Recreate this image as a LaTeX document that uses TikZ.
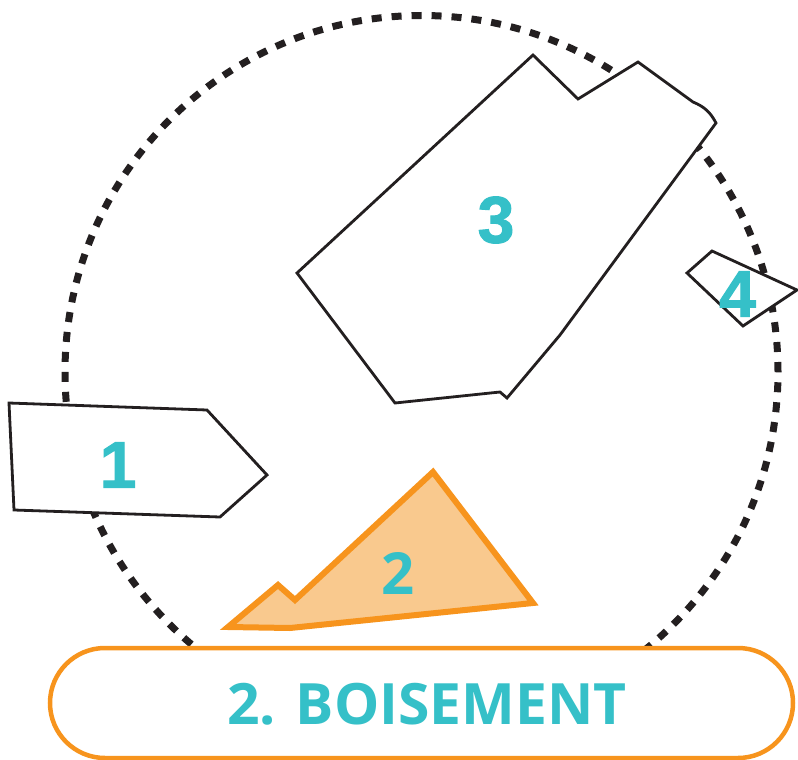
\documentclass[tikz,border=0pt]{standalone}
\usepackage{fontspec}
\newfontfamily\numfont{Liberation Sans Bold}[FakeBold=1.6]
\newfontfamily\titlefont{Open Sans}
\definecolor{ZoneTeal}{RGB}{53, 192, 200}
\definecolor{ZoneOrange}{RGB}{247, 148, 29}
\definecolor{ZoneFill}{RGB}{249, 201, 142}
\definecolor{ZoneInk}{RGB}{35, 31, 32}
\usetikzlibrary{positioning}
\begin{document}
\begin{tikzpicture}[x=1pt, y=-1pt, zone/.style={draw=ZoneInk, line width=2.8pt, fill=white, line join=miter},
  wood/.style={draw=ZoneOrange, line width=6pt, fill=ZoneFill, line join=miter},
  ring/.style={draw=ZoneInk, line width=7pt, dash pattern=on 10pt off 10pt},
  num/.style={text=ZoneTeal, font=\numfont\fontsize{66}{66}\selectfont, inner sep=0pt},
  numtwo/.style={text=ZoneTeal, font=\titlefont\bfseries\fontsize{58}{58}\selectfont, inner sep=0pt},
  pill/.style={draw=ZoneOrange, line width=4.5pt, fill=white, rounded corners=55pt, minimum width=743pt, minimum height=110pt, inner sep=0pt},
  title/.style={text=ZoneTeal, font=\titlefont\bfseries\fontsize{57}{57}\selectfont, inner sep=0pt}]
\useasboundingbox (0,0) rectangle (798,760);
\coordinate (mid) at (421.5,372);
\draw[ring] (mid) circle[radius=356.5pt];
% plots
\draw[zone] (9,403) -- (207,410) -- (267,475) -- (220,517) -- (14,510) -- cycle;
\draw[zone] (533,55) -- (578,99) -- (638,62) -- (693,102) to[bend left=20] (716,123) -- (560,335) -- (507,398) -- (500,392) -- (395,403) -- (297,273) -- cycle;
\draw[zone] (712,251) -- (797,290) -- (743,326) -- (687,273) -- cycle;
\draw[wood] (433,472) -- (533,603) -- (290,628) -- (228,627) -- (278,585) -- (295,600) -- cycle;
\node[num] (n1) at (118,465) {1};
\node[numtwo] (n2) at (398,573) {2};
\node[num] (n3) at (496,220) {3};
\node[num] (n4) at (737.5,294) {4};
% banner
\node[pill] (banner) at (421.5,703) {};
\node[title] (label) at (427,704.5) {2. BOISEMENT};
\end{tikzpicture}
\end{document}
